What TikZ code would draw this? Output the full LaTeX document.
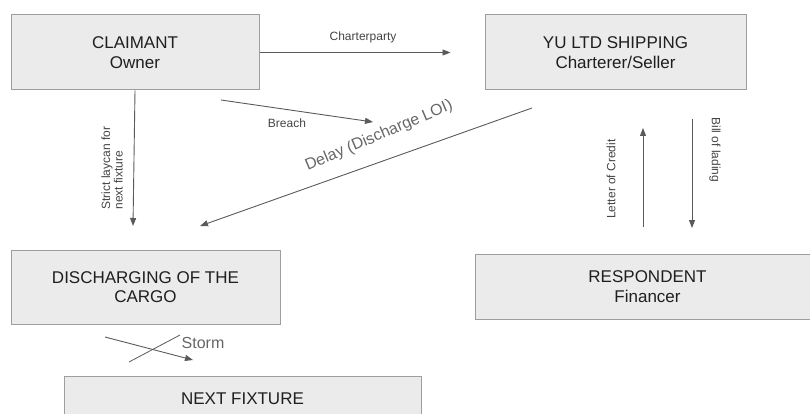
\documentclass[tikz,border=0pt]{standalone}
\usepackage{fontspec}
\setmainfont{Liberation Sans}
\usetikzlibrary{arrows.meta}
\definecolor{boxfill}{HTML}{EBEBEB}
\definecolor{boxline}{HTML}{9E9E9E}
\definecolor{linkgray}{HTML}{5A5A5A}
\definecolor{taggray}{HTML}{444444}
\newcommand{\partyfont}{\fontsize{17}{19.5}\selectfont} % Box text.
\newcommand{\tagfont}{\fontsize{12}{12.5}\selectfont}
\newcommand{\bigtagfont}{\fontsize{16}{18}\selectfont}

\begin{document}
\begin{tikzpicture}[x=1pt,y=-1pt,
  party/.style={draw=boxline,fill=boxfill,line width=1pt,text=black!88,
    font=\partyfont,align=center,inner sep=0pt},
  link/.style={draw=linkgray,line width=0.9pt,-{Triangle[length=8pt,width=6pt]}},
  tag/.style={text=taggray,font=\tagfont,inner sep=0pt},
  bigtag/.style={text=black!60,font=\bigtagfont,inner sep=0pt}]
\useasboundingbox (0,0) rectangle (810,414);
\node[party,minimum width=248pt,minimum height=75pt] (claimant) at (135,52.5) {CLAIMANT\\Owner};
\node[party,minimum width=261pt,minimum height=75pt] (yu) at (615.5,52.5) {YU LTD SHIPPING\\Charterer/Seller};
\node[party,minimum width=269pt,minimum height=74pt] (discharge) at (145.5,287) {DISCHARGING OF THE\\CARGO};
\node[party,minimum width=345pt,minimum height=65pt] (respondent) at (647.5,286.5) {RESPONDENT\\Financer};
\node[party,minimum width=357pt,minimum height=46pt] (fixture) at (242.5,399) {NEXT FIXTURE};

\coordinate (breachA) at (221,100);
\coordinate (breachB) at (373,122);
\coordinate (laycanB) at (133,226);
\coordinate (delayA) at (532,108);
\coordinate (delayB) at (200,226);
\coordinate (creditA) at (643,227);
\coordinate (creditB) at (643,128);
\coordinate (ladingA) at (692,119);
\coordinate (ladingB) at (692,228);
\coordinate (stormA) at (105,337);
\coordinate (stormB) at (193,360);
\coordinate (crossA) at (129,362);
\coordinate (crossB) at (180,335);

\draw[link,shorten >=34pt] (claimant) -- (yu);
\draw[link] (claimant.south) -- (laycanB);
\draw[link] (breachA) -- (breachB);
\draw[link] (delayA) -- (delayB);
\draw[link] (creditA) -- (creditB);
\draw[link] (ladingA) -- (ladingB);
\draw[link] (stormA) -- (stormB);
\draw[draw=linkgray,line width=0.8pt] (crossA) -- (crossB);

\node[tag] (charterparty) at (363,37) {Charterparty};
\node[tag] (breach) at (287,123) {Breach};
\node[tag,rotate=90,align=left] (laycan) at (112,168) {Strict laycan for\\next fixture};
\node[tag,rotate=90] (credit) at (611,179) {Letter of Credit};
\node[tag,rotate=-90] (lading) at (715,150) {Bill of lading};
\node[bigtag,rotate=23] (delay) at (379,136) {Delay (Discharge LOI)};
\node[bigtag] (storm) at (203,343) {Storm};
\end{tikzpicture}
\end{document}
